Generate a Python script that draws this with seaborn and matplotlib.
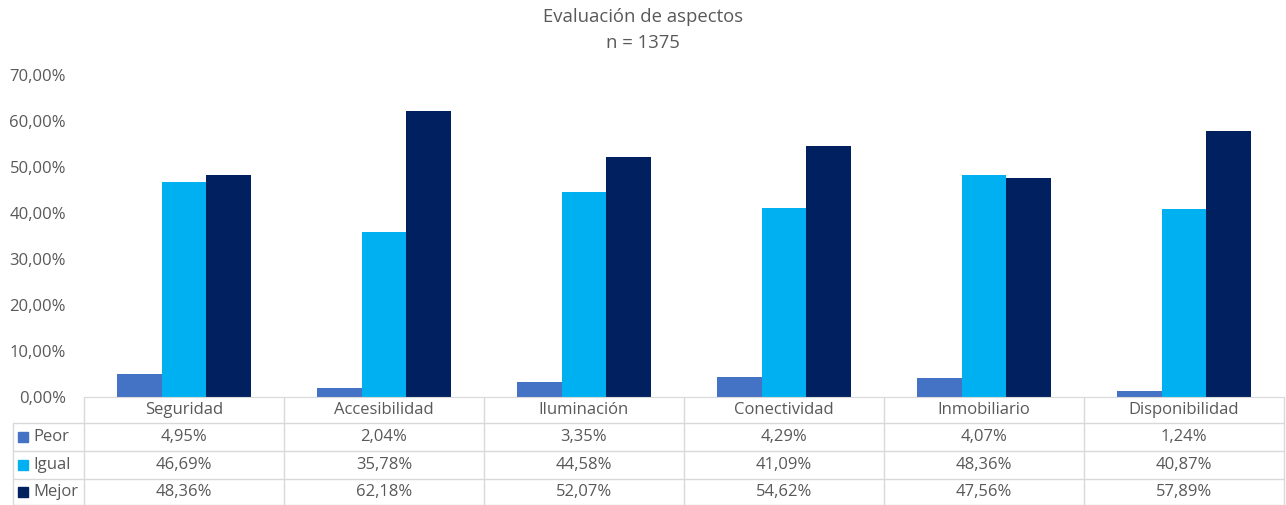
import matplotlib.pyplot as plt
import matplotlib.lines as mlines
import matplotlib.patches as mpatches
import pandas as pd
import seaborn as sns

categories = ['Seguridad', 'Accesibilidad', 'Iluminación', 'Conectividad', 'Inmobiliario', 'Disponibilidad']
series = ['Peor', 'Igual', 'Mejor']
peor = [4.95, 2.04, 3.35, 4.29, 4.07, 1.24]
igual = [46.69, 35.78, 44.58, 41.09, 48.36, 40.87]
mejor = [48.36, 62.18, 52.07, 54.62, 47.56, 57.89]
colors = ['#4472C4', '#00B0F0', '#002060']

rows = []
for name, vals in zip(series, [peor, igual, mejor]):
    for cat, v in zip(categories, vals):
        rows.append({'Aspecto': cat, 'Serie': name, 'Valor': v})
df = pd.DataFrame(rows)

sns.set_style('white')
plt.rcParams['font.family'] = ['Open Sans', 'DejaVu Sans']
txt = '#595959'
grid = '#D9D9D9'
fs = 12

W, H = 1286, 505
fig = plt.figure(figsize=(W / 100, H / 100), dpi=100)

def fx(px):
    return px / W

def fy(py):
    return 1 - py / H

x0, x1, y0, y1 = 84, 1284, 397, 75
ax = fig.add_axes([fx(x0), fy(y0), fx(x1 - x0), fy(y1) - fy(y0)])
sns.barplot(data=df, x='Aspecto', y='Valor', hue='Serie', palette=colors,
            width=0.667, saturation=1, legend=False, linewidth=0, ax=ax)
ax.set_xlim(-0.5, 5.5)
ax.set_ylim(0, 70)
ax.set_yticks(range(0, 71, 10))
ax.set_yticklabels([f'{v:.2f}%'.replace('.', ',') for v in range(0, 71, 10)],
                   color=txt, fontsize=fs)
ax.tick_params(axis='y', length=0, pad=13)
ax.set_xticks([])
ax.set_xlabel('')
ax.set_ylabel('')
for s in ['left', 'right', 'top']:
    ax.spines[s].set_visible(False)
ax.spines['bottom'].set_color(grid)

# title
fig.text(0.5, fy(17), 'Evaluación de aspectos', ha='center', va='center', color=txt, fontsize=13.3)
fig.text(0.5, fy(43), 'n = 1375', ha='center', va='center', color=txt, fontsize=13.3)

# data table below the axis
row_y = [397, 423, 451, 479, 505]
col_x = [x0 + 200 * i for i in range(7)]
tl = 13

def line(xa, ya, xb, yb):
    fig.add_artist(mlines.Line2D([fx(xa), fx(xb)], [fy(ya), fy(yb)], color=grid, lw=1))

for y in row_y[1:]:
    line(tl, y, x1, y)
for x in col_x:
    line(x, row_y[0], x, row_y[-1])
line(tl, row_y[1], tl, row_y[-1])

for i, cat in enumerate(categories):
    cx = (col_x[i] + col_x[i + 1]) / 2
    fig.text(fx(cx), fy((row_y[0] + row_y[1]) / 2), cat, ha='center', va='center',
             color=txt, fontsize=fs)

for r, (name, vals, c) in enumerate(zip(series, [peor, igual, mejor], colors)):
    cy = (row_y[r + 1] + row_y[r + 2]) / 2
    fig.add_artist(mpatches.Rectangle((fx(18), fy(cy + 5)), fx(10), fy(cy - 5) - fy(cy + 5),
                                      color=c, transform=fig.transFigure))
    fig.text(fx(33), fy(cy), name, ha='left', va='center', color=txt, fontsize=fs)
    for i, v in enumerate(vals):
        cx = (col_x[i] + col_x[i + 1]) / 2
        fig.text(fx(cx), fy(cy), f'{v:.2f}%'.replace('.', ','), ha='center', va='center',
                 color=txt, fontsize=fs)

fig.savefig('out.png', dpi=100)
